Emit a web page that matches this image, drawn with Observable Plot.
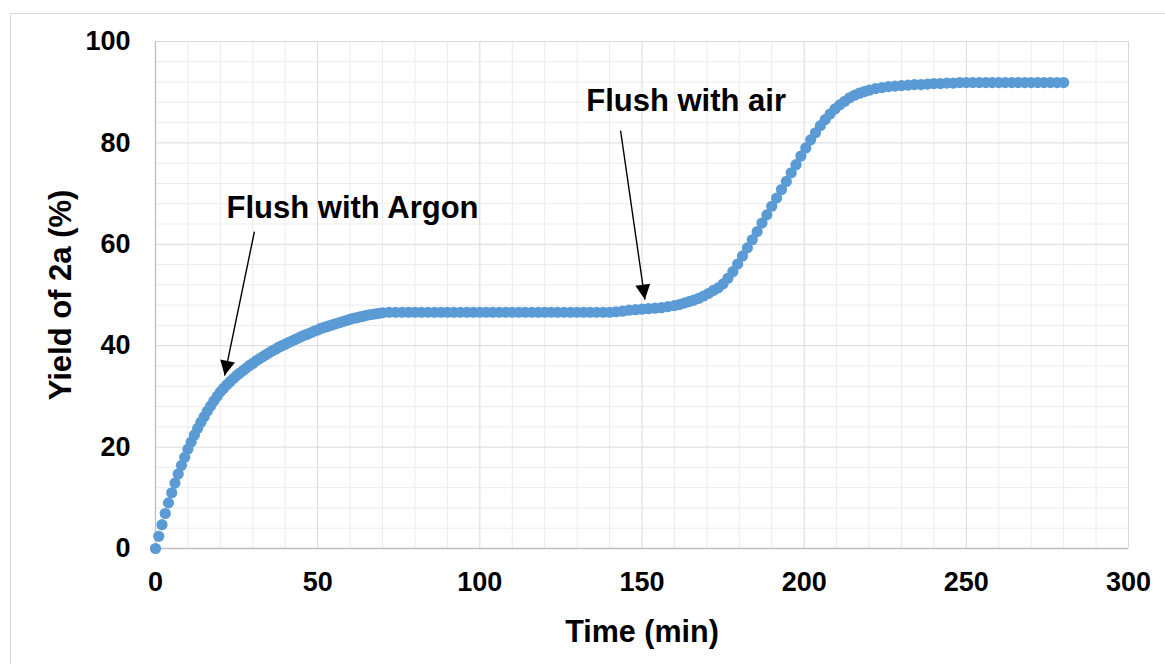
<!DOCTYPE html>
<html>
<head>
<meta charset="utf-8">
<script src="https://cdn.jsdelivr.net/npm/d3@7"></script>
<script src="https://cdn.jsdelivr.net/npm/@observablehq/plot@0.6"></script>
<style>
  html, body { margin: 0; padding: 0; background: #ffffff; }
  #wrap { position: relative; width: 1165px; height: 664px; overflow: hidden; }
  #border { position: absolute; left: 10px; top: 13px; right: -5px; bottom: -5px;
            border-top: 1px solid #d9d9d9; border-left: 1px solid #d9d9d9; }
  #chart { position: absolute; left: 0; top: 0; }
  #chart svg text { font-weight: 700; }
</style>
</head>
<body>
<div id="wrap"><div id="border"></div><div id="chart"></div></div>
<script>
// Sampling times (min)
const times = [
  0,1,2,3,4,5,6,7,8,9,10,11,12,13,14,15,16,17,18,19,20,
  21,22,23,24,25,26,27,28,29,30,31,32,33,34,35,36,37,38,39,40,
  41,42,43,44,45,46,47,48,49,50,51,52,53,54,55,56,57,58,59,60,
  61,62,63,64,65,66,67,68,69,70,
  72,74,76,78,80,82,84,86,88,90,92,94,96,98,100,102,104,106,108,110,
  112,114,116,118,120,122,124,126,128,130,132,134,136,138,140,
  142,144,146,148,150,152,154,156,158,
  160,161.5,163,164.5,166,167.5,169,170.5,172,173.5,175,176.5,178,179.5,181,182.5,
  184,185.5,187,188.5,190,191.5,193,194.5,196,197.5,199,200.5,202,203.5,205,206.5,
  208,209.5,211,212.5,214,215.5,217,218.5,220,
  222,224,226,228,230,232,234,236,238,240,242,244,246,248,
  250,252,254,256,258,260,262,264,266,268,270,272,274,276,278,280
];
// Yield of 2a (%)
const yields = [
  0,2.4,4.7,6.9,9.0,11.0,12.9,14.7,16.4,18.0,19.6,21.0,22.4,23.7,24.9,26.0,27.1,28.1,29.1,30.0,30.9,
  31.6,32.3,32.9,33.5,34.1,34.6,35.1,35.6,36.1,36.5,37.0,37.4,37.8,38.2,38.6,39.0,39.3,39.7,40.0,40.3,
  40.6,40.9,41.2,41.5,41.8,42.1,42.3,42.6,42.9,43.1,43.4,43.6,43.8,44.0,44.2,44.4,44.6,44.8,45.0,45.2,
  45.4,45.5,45.7,45.8,46.0,46.1,46.2,46.3,46.4,46.5,
  46.6,46.6,46.6,46.6,46.6,46.6,46.6,46.6,46.6,46.6,46.6,46.6,46.6,46.6,46.6,46.6,46.6,46.6,46.6,46.6,
  46.6,46.6,46.6,46.6,46.6,46.6,46.6,46.6,46.6,46.6,46.6,46.6,46.6,46.6,46.6,
  46.7,46.8,47.0,47.1,47.2,47.3,47.4,47.5,47.7,
  47.9,48.1,48.4,48.7,49.0,49.35,49.8,50.3,50.9,51.4,52.2,53.3,54.6,56.1,57.7,59.3,
  60.9,62.5,64.2,65.8,67.5,69.1,70.8,72.4,74.1,75.7,77.4,79.0,80.6,82.0,83.4,84.6,
  85.7,86.7,87.5,88.2,88.9,89.4,89.8,90.1,90.4,
  90.7,90.9,91.1,91.2,91.3,91.4,91.5,91.5,91.6,91.7,91.7,91.8,91.8,91.9,
  91.9,91.9,91.9,91.9,91.9,91.9,91.9,91.9,91.9,91.9,91.9,91.9,91.9,91.9,91.9,91.9
];
// Axis ticks
const xTicks = [0, 50, 100, 150, 200, 250, 300];
const yTicks = [0, 20, 40, 60, 80, 100];
const xMinor = [10,20,30,40,60,70,80,90,110,120,130,140,160,170,180,190,210,220,230,240,260,270,280,290];
const yMinor = [4,8,12,16,24,28,32,36,44,48,52,56,64,68,72,76,84,88,92,96];
// Annotations
const noteLabels = ["Flush with Argon", "Flush with air"];
const noteX = [21.9, 132.8];
const noteY = [67.2, 88.2];
const arrowFromX = [30.5, 143.4];
const arrowFromY = [62.5, 82.4];
const arrowToX = [21.3, 150.9];
const arrowToY = [34.1, 49.1];

const n = Math.min(times.length, yields.length);
const data = d3.range(n).map(i => ({t: times[i], v: yields[i]}));
const notes = noteLabels.map((s, i) => ({s, x: noteX[i], y: noteY[i]}));
const arrows = noteLabels.map((s, i) => ({x1: arrowFromX[i], y1: arrowFromY[i], x2: arrowToX[i], y2: arrowToY[i]}));

const chart = Plot.plot({
  width: 1165,
  height: 664,
  marginLeft: 155,
  marginRight: 37,
  marginTop: 41,
  marginBottom: 116,
  x: {domain: [0, 300]},
  y: {domain: [0, 100]},
  style: {fontFamily: "'Liberation Sans', Arial, sans-serif", background: "transparent", color: "#000"},
  marks: [
    Plot.ruleX(xMinor, {stroke: "#ececec", strokeWidth: 1}),
    Plot.ruleY(yMinor, {stroke: "#ececec", strokeWidth: 1}),
    Plot.ruleX(xTicks, {stroke: "#d9d9d9", strokeWidth: 1}),
    Plot.ruleY(yTicks, {stroke: "#d9d9d9", strokeWidth: 1}),
    Plot.ruleX([0], {stroke: "#bfbfbf", strokeWidth: 1.3}),
    Plot.ruleY([0], {stroke: "#bfbfbf", strokeWidth: 1.3}),
    Plot.axisX({ticks: xTicks, tickSize: 0, tickPadding: 23, fontSize: 27, fontWeight: "bold", label: null, fill: "#000"}),
    Plot.axisY({ticks: yTicks, tickSize: 0, tickPadding: 25, fontSize: 27, fontWeight: "bold", label: null, fill: "#000"}),
    Plot.text(["Time (min)"], {frameAnchor: "bottom", textAnchor: "middle", lineAnchor: "middle", dy: 84, fontSize: 30.5, fontWeight: "bold", fill: "#000"}),
    Plot.text(["Yield of 2a (%)"], {frameAnchor: "left", textAnchor: "middle", lineAnchor: "middle", rotate: -90, dx: -94, fontSize: 31, fontWeight: "bold", fill: "#000"}),
    Plot.dot(data, {x: "t", y: "v", r: 5.6, fill: "#5b9bd5", stroke: "none"}),
    Plot.link(arrows, {x1: "x1", y1: "y1", x2: "x2", y2: "y2", stroke: "#000", strokeWidth: 1.4}),
    Plot.text(notes, {x: "x", y: "y", text: "s", textAnchor: "start", lineAnchor: "middle", fontSize: 31, fontWeight: "bold", fill: "#000"})
  ]
});

// Filled triangular arrowheads for the annotation links
const svg = d3.select(chart);
svg.insert("defs", ":first-child")
  .append("marker")
  .attr("id", "tri")
  .attr("viewBox", "0 0 10 10")
  .attr("refX", 10).attr("refY", 5)
  .attr("markerUnits", "userSpaceOnUse")
  .attr("markerWidth", 18).attr("markerHeight", 15)
  .attr("orient", "auto")
  .append("path").attr("d", "M0,0L10,5L0,10Z").attr("fill", "#000");
svg.selectAll('g[aria-label="link"] path').attr("marker-end", "url(#tri)");

document.getElementById("chart").appendChild(chart);
</script>
</body>
</html>
